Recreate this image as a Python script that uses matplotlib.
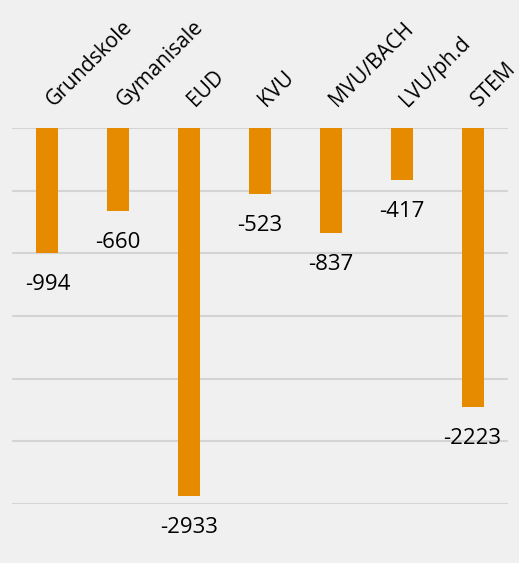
import matplotlib
matplotlib.use("Agg")
import matplotlib.pyplot as plt

categories = ['Grundskole', 'Gymanisale', 'EUD', 'KVU', 'MVU/BACH', 'LVU/ph.d', 'STEM']
values = [-994, -660, -2933, -523, -837, -417, -2223]

bg = '#f0f0f0'
barColor = '#e68a00'

plt.rcParams['font.family'] = ['Open Sans', 'DejaVu Sans']

fig = plt.figure(figsize=(5.19, 5.63), dpi=100, facecolor=bg)
ax = fig.add_axes([12/519, 1-504/563, 496/519, 376/563], facecolor=bg)

x = range(len(categories))
ax.bar(x, values, width=0.31, color=barColor, zorder=3)

# value labels under the bar ends
for i, v in zip(x, values):
    ax.annotate(str(v), (i, v), xytext=(0, -21), textcoords='offset pixels',
                ha='center', va='top', fontsize=16, color='black')

# rotated category labels above the plot
for i, c in zip(x, categories):
    ax.annotate(c, (i, 1), xycoords=('data', 'axes fraction'),
                xytext=(6, 21), textcoords='offset pixels',
                ha='left', va='baseline', rotation=45, rotation_mode='anchor',
                fontsize=15, color='black')

ax.set_xlim(-0.5, len(categories)-0.5)
ax.set_ylim(-3000, 0)
ax.set_yticks(range(-3000, 1, 500))
ax.yaxis.grid(True, color='#d4d4d4', linewidth=1.5, zorder=0)
ax.tick_params(axis='y', left=False, labelleft=False)
ax.set_xticks([])

for s in ax.spines.values():
    s.set_visible(False)

fig.savefig('out.png', dpi=100, facecolor=bg)
